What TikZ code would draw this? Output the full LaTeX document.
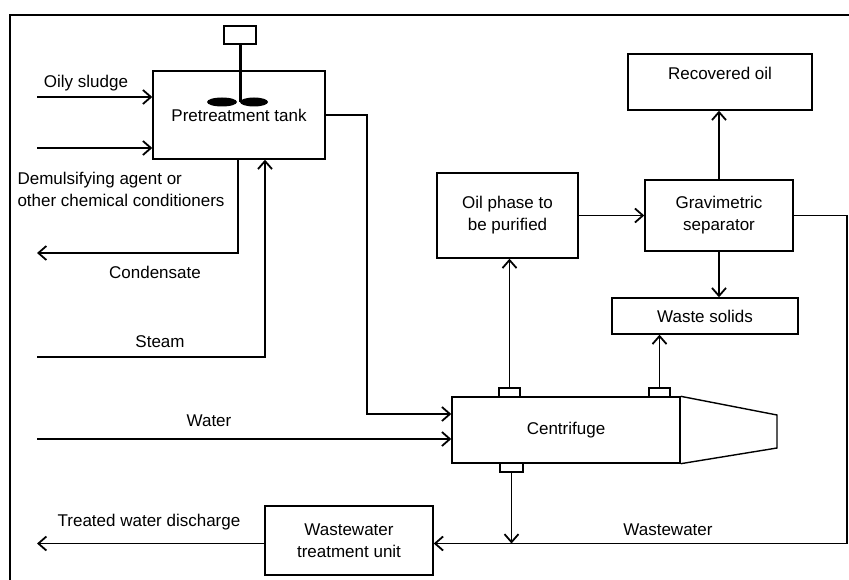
\documentclass[tikz,border=0pt]{standalone}
\usepackage{fontspec}
\setmainfont{Liberation Sans}
\usetikzlibrary{arrows.meta,positioning,calc}

\begin{document}
\begin{tikzpicture}[
            x=1pt, y=-1pt,
            box/.style={
                    draw=black,
                    fill=white,
                    rectangle,
                    line width=1.4pt,
                    inner sep=0pt,
                    align=center,
                    font=\fontsize{17}{22}\selectfont
                },
            portBox/.style={
                    draw=black,
                    rectangle,
                    line width=1.4pt,
                    inner sep=0pt,
                    minimum width=21pt,
                    minimum height=9pt
                },
            arrow/.style={
            -{Straight Barb[length=8pt,width=14pt,line width=1.8pt]},
            color=black,
            line width=1.8pt
            },
            labelText/.style={
                    font=\fontsize{17}{22}\selectfont,
                    color=black,
                    align=center
                }
            ]

            \useasboundingbox (0,0) rectangle (849,580);

            % Marco exterior
            \draw[line width=1.6pt] (10,580) |- (849,15);

            % 1. Tanque de pretratamiento con agitador
            \node[box, minimum width=172pt, minimum height=88pt] (tank) at (239,115) {Pretreatment tank};
            \node[box, minimum width=32pt, minimum height=18pt] (motor) at (240,35) {};
            \draw[line width=3pt] (motor.south) -- (240,102);
            \fill (222,102) ellipse [x radius=15, y radius=4.5];
            \fill (254,102) ellipse [x radius=14, y radius=4.5];

            % 2. Centrifuga y sus bocas
            \node[box, minimum width=228pt, minimum height=66pt] (centrifuge) at (566,430) {Centrifuge};
            \draw[line width=1.4pt] (centrifuge.north east) -- (777,415) -- (777,448) -- (centrifuge.south east);
            \node[portBox] (portOil) at (509.5,392.5) {};
            \node[portBox] (portSolids) at (659.5,392.5) {};
            \node[portBox, minimum width=23pt] (portWater) at (511.5,467.5) {};

            % 3. Fase de aceite y separador
            \node[box, minimum width=141pt, minimum height=85pt] (oilPhase) at (507.5,215.5) {Oil phase to\\be purified};
            \node[box, minimum width=148pt, minimum height=71pt] (gravSep) at (719,215.5) {Gravimetric\\separator};
            \node[box, minimum width=184pt, minimum height=56pt, text depth=17pt] (recOil) at (720,82) {Recovered oil};
            \node[box, minimum width=186pt, minimum height=36pt] (wasteSolids) at (705,316) {Waste solids};

            % 4. Tratamiento de aguas residuales
            \node[box, minimum width=168pt, minimum height=69pt] (wwUnit) at (349,540.5) {Wastewater\\treatment unit};

            % --- EXTREMOS LIBRES ---
            \coordinate (sludgeIn) at (37,97);
            \coordinate (agentIn) at (37,148);
            \coordinate (condOut) at (37,253);
            \coordinate (steamIn) at (37,357);
            \coordinate (waterIn) at (37,439);
            \coordinate (treatedOut) at (37,543.5);
            \coordinate (wwJoin) at (511.5,543.5);
            \coordinate (wwCorner) at (847,543.5);

            % --- CONEXIONES Y ETIQUETAS ---

            % 5. Lodo aceitoso y agentes
            \draw[arrow] (sludgeIn) -- (sludgeIn -| tank.west);
            \node[labelText] (sludgeLbl) at (86,83) {Oily sludge};
            \draw[arrow] (agentIn) -- (agentIn -| tank.west);
            \node[labelText, anchor=west, align=left] (agentLbl) at (14,189) {Demulsifying agent or\\other chemical conditioners};

            % 6. Condensado y vapor
            \draw[arrow] ([xshift=-1pt]tank.south) |- (condOut);
            \node[labelText] (condLbl) at (155,272) {Condensate};
            \draw[arrow] (steamIn) -| ([xshift=26pt]tank.south);
            \node[labelText] (steamLbl) at (160,342) {Steam};

            % 7. Tanque hacia la centrifuga, agua
            \draw[arrow] (tank.east) -- (367,115) |- ([yshift=16pt]centrifuge.west);
            \draw[arrow] (waterIn) -- (waterIn -| centrifuge.west);
            \node[labelText] (waterLbl) at (209,421) {Water};

            % 8. Salidas de la centrifuga
            \draw[arrow] (portOil.north) -- (portOil.north |- oilPhase.south);
            \draw[arrow] (portSolids.north) -- (portSolids.north |- wasteSolids.south);
            \draw[arrow] (portWater.south) -- (wwJoin);

            % 9. Separacion gravimetrica
            \draw[arrow] (oilPhase.east) -- (gravSep.west);
            \draw[arrow] (gravSep.north) -- (gravSep.north |- recOil.south);
            \draw[arrow] (gravSep.south) -- (gravSep.south |- wasteSolids.north);

            % 10. Aguas residuales hacia el tratamiento
            \draw[arrow] (gravSep.east) -| (wwCorner) -- (wwCorner -| wwUnit.east);
            \node[labelText] (wwLbl) at (668,530) {Wastewater};
            \draw[arrow] (wwJoin -| wwUnit.west) -- (treatedOut);
            \node[labelText] (treatedLbl) at (149,522) {Treated water discharge};

        \end{tikzpicture}
\end{document}
